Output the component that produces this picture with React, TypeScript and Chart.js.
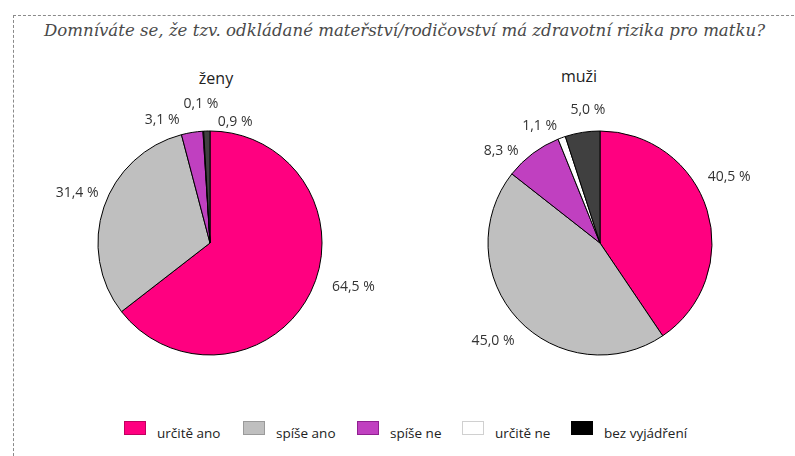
import React, { useEffect, useRef } from "react";
import { Chart, registerables } from "chart.js";

Chart.register(...registerables);

const chartTitle = "Domníváte se, že tzv. odkládané mateřství/rodičovství má zdravotní rizika pro matku?";
const categories = ["určitě ano", "spíše ano", "spíše ne", "určitě ne", "bez vyjádření"];
const zenyValues = [64.5, 31.4, 3.1, 0.1, 0.9];
const muziValues = [40.5, 45.0, 8.3, 1.1, 5.0];

const sliceColors = ["#FF0080", "#BFBFBF", "#C040C0", "#FFFFFF", "#404040"];
const legendColors = ["#FF0080", "#BFBFBF", "#C040C0", "#FFFFFF", "#000000"];
const legendBorders = ["#C00060", "#9A9A9A", "#902090", "#D0D0D0", "#000000"];

// label placement tweaks (degrees of rotation from slice middle, px beyond the rim)
const zenyLabelShift = [-9, 1.9, -12.1, -0.3, 13.3];
const zenyLabelOffset = [38, 30, 20, 27, 12];
const muziLabelShift = [-10.1, 0.5, -10.2, -7.2, 3.8];
const muziLabelOffset = [33, 33, 23, 20, 22];

const LABEL_FONT = "14px 'Open Sans'";

function fmt(v: number) {
  return v.toFixed(1).replace(".", ",") + " %";
}

type PieProps = {
  values: number[];
  shift: number[];
  offset: number[];
  left: number;
  top: number;
};

function Pie({ values, shift, offset, left, top }: PieProps) {
  const ref = useRef<HTMLCanvasElement | null>(null);
  useEffect(() => {
    if (!ref.current) return;
    const labelPlugin = {
      id: "outerLabels",
      afterDatasetsDraw(chart: any) {
        const ctx = chart.ctx;
        const meta = chart.getDatasetMeta(0);
        ctx.save();
        ctx.font = LABEL_FONT;
        ctx.fillStyle = "#333333";
        ctx.textAlign = "center";
        ctx.textBaseline = "middle";
        meta.data.forEach((arc: any, i: number) => {
          const p = arc.getProps(["x", "y", "startAngle", "endAngle", "outerRadius"], true);
          const a = (p.startAngle + p.endAngle) / 2 + (shift[i] * Math.PI) / 180;
          const d = p.outerRadius + offset[i];
          ctx.fillText(fmt(values[i]), p.x + Math.cos(a) * d, p.y + Math.sin(a) * d);
        });
        ctx.restore();
      },
    };
    const chart = new Chart(ref.current, {
      type: "pie",
      data: {
        labels: categories,
        datasets: [
          {
            data: values,
            backgroundColor: sliceColors,
            borderColor: "#000000",
            borderWidth: 1,
          },
        ],
      },
      options: {
        responsive: false,
        animation: false,
        devicePixelRatio: 1,
        layout: { padding: { left: 67.5, right: 67.5, top: 47.5, bottom: 47.5 } },
        plugins: { legend: { display: false }, tooltip: { enabled: false } },
      },
      plugins: [labelPlugin],
    });
    return () => chart.destroy();
  }, []);
  return (
    <canvas
      ref={ref}
      width={360}
      height={320}
      style={{ position: "absolute", left, top, width: 360, height: 320 }}
    />
  );
}

export default function App() {
  return (
    <div
      style={{
        position: "absolute",
        left: 0,
        top: 0,
        width: 795,
        height: 456,
        background: "#ffffff",
        overflow: "hidden",
        fontFamily: "'Open Sans', sans-serif",
      }}
    >
      <div
        style={{
          position: "absolute",
          left: 13,
          top: 15,
          width: 790,
          height: 450,
          borderTop: "1px dashed #8a8a8a",
          borderLeft: "1px dashed #8a8a8a",
        }}
      />
      <div
        style={{
          position: "absolute",
          left: 14,
          width: 781,
          top: 21,
          textAlign: "center",
          fontFamily: "'DejaVu Serif', serif",
          fontStyle: "italic",
          fontSize: 16.6,
          color: "#4a4a4a",
          whiteSpace: "nowrap",
        }}
      >
        {chartTitle}
      </div>
      <div
        style={{ position: "absolute", left: 166, width: 100, top: 67, textAlign: "center", fontSize: 16, color: "#222" }}
      >
        ženy
      </div>
      <div
        style={{ position: "absolute", left: 529, width: 100, top: 65, textAlign: "center", fontSize: 16, color: "#222" }}
      >
        muži
      </div>
      <Pie values={zenyValues} shift={zenyLabelShift} offset={zenyLabelOffset} left={30} top={83} />
      <Pie values={muziValues} shift={muziLabelShift} offset={muziLabelOffset} left={420} top={83} />
      {categories.map((c, i) => {
        const xs = [124, 243, 357, 462, 571];
        return (
          <div key={c} style={{ position: "absolute", left: xs[i], top: 421, height: 24 }}>
            <div
              style={{
                position: "absolute",
                left: 0,
                top: 0,
                width: 20,
                height: 12,
                background: legendColors[i],
                border: `1px solid ${legendBorders[i]}`,
              }}
            />
            <div
              style={{
                position: "absolute",
                left: 33,
                top: 3,
                fontSize: 13.5,
                color: "#222",
                whiteSpace: "nowrap",
              }}
            >
              {c}
            </div>
          </div>
        );
      })}
    </div>
  );
}
